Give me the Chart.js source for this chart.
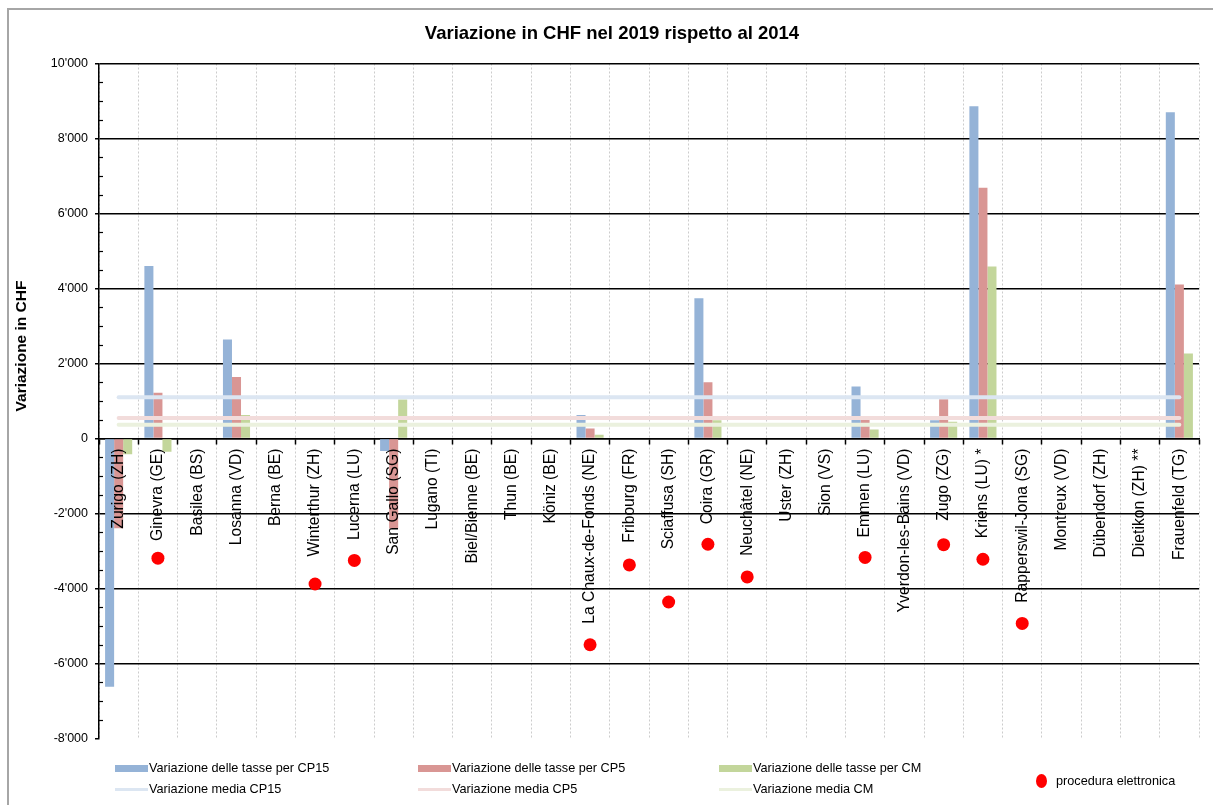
<!DOCTYPE html>
<html>
<head>
<meta charset="utf-8">
<script src="https://cdn.jsdelivr.net/npm/chart.js@4/dist/chart.umd.min.js"></script>
<style>
  body { margin: 0; background: #fff; overflow: hidden; font-family: "Liberation Sans", Arial, sans-serif; }
  #wrap { position: relative; width: 1213px; height: 805px; overflow: hidden; }
  #frame { position: absolute; left: 7px; top: 8px; width: 1240px; height: 840px; border: 2px solid #a6a6a6; pointer-events: none; }
  .item { position: absolute; height: 16px; display: flex; align-items: center; font-size: 12.7px; color: #000; white-space: nowrap; }
  .swatch { display: inline-block; width: 33px; margin-right: 1px; }
</style>
</head>
<body>
<div id="wrap">
  <canvas id="chart" width="1213" height="805"></canvas>
  <div id="frame"></div>
  <div id="legend"></div>
</div>
<script>
const titolo = 'Variazione in CHF nel 2019 rispetto al 2014';
const titoloAsseY = 'Variazione in CHF';

const citta = [
  'Zurigo (ZH)', 'Ginevra (GE)', 'Basilea (BS)', 'Losanna (VD)', 'Berna (BE)',
  'Winterthur (ZH)', 'Lucerna (LU)', 'San Gallo (SG)', 'Lugano (TI)', 'Biel/Bienne (BE)',
  'Thun (BE)', 'Köniz (BE)', 'La Chaux-de-Fonds (NE)', 'Fribourg (FR)', 'Sciaffusa (SH)',
  'Coira (GR)', 'Neuchâtel (NE)', 'Uster (ZH)', 'Sion (VS)', 'Emmen (LU)',
  'Yverdon-les-Bains (VD)', 'Zugo (ZG)', 'Kriens (LU) *', 'Rapperswil-Jona (SG)', 'Montreux (VD)',
  'Dübendorf (ZH)', 'Dietikon (ZH) **', 'Frauenfeld (TG)'
];

// variazione delle tasse per tipo di economia domestica (CHF)
const tasseCP15 = [-6620, 4600, null, 2640, null, null, null, -330, null, null, null, null, 630, null, null, 3740, null, null, null, 1390, null, 490, 8860, null, null, null, null, 8700];
const tasseCP5  = [-2390, 1220, null, 1640, null, null, null, -2400, null, null, null, null, 270, null, null, 1500, null, null, null, 600, null, 1050, 6690, null, null, null, null, 4110];
const tasseCM   = [-420, -350, null, 630, null, null, null, 1040, null, null, null, null, 100, null, null, 490, null, null, null, 240, null, 445, 4590, null, null, null, null, 2270];

// medie
const mediaCP15 = 1100;
const mediaCP5 = 545;
const mediaCM = 370;

// città con procedura elettronica
const puntiCitta = ['Ginevra (GE)', 'Winterthur (ZH)', 'Lucerna (LU)', 'La Chaux-de-Fonds (NE)', 'Fribourg (FR)', 'Sciaffusa (SH)', 'Coira (GR)', 'Neuchâtel (NE)', 'Emmen (LU)', 'Zugo (ZG)', 'Kriens (LU) *', 'Rapperswil-Jona (SG)'];
const puntiValori = [-3190, -3880, -3250, -5500, -3370, -4360, -2820, -3690, -3170, -2830, -3220, -4930];

const yMin = -8000;
const yMax = 10000;
const yStep = 2000;

const font = '"Liberation Sans", Arial, sans-serif';

function fmt(v) {
  if (v < 0) return '-' + fmt(-v);
  return String(v).replace(/\B(?=(\d{3})+(?!\d))/g, "'");
}

function lineaMedia(val) {
  return [{ x: citta[0], y: val }, { x: citta[citta.length - 1], y: val }];
}

// titolo, titolo dell'asse y e tacche secondarie
const extra = {
  id: 'extra',
  afterDraw(chart) {
    const ctx = chart.ctx;
    const y = chart.scales.y;
    const area = chart.chartArea;
    ctx.save();
    ctx.strokeStyle = '#000';
    ctx.lineWidth = 1.2;
    for (let v = yMin; v <= yMax; v += 500) {
      if (v % yStep === 0) continue;
      const py = Math.round(y.getPixelForValue(v)) + 0.5;
      ctx.beginPath();
      ctx.moveTo(area.left, py);
      ctx.lineTo(area.left + 4, py);
      ctx.stroke();
    }
    ctx.fillStyle = '#000';
    ctx.textAlign = 'center';
    ctx.textBaseline = 'middle';
    ctx.font = 'bold 18.5px ' + font;
    ctx.fillText(titolo, 612, 34);

    ctx.translate(22, 346);
    ctx.rotate(-Math.PI / 2);
    ctx.font = 'bold 15.5px ' + font;
    ctx.fillText(titoloAsseY, 0, 0);
    ctx.restore();
  }
};

const chart = new Chart(document.getElementById('chart'), {
  data: {
    labels: citta,
    datasets: [
      { type: 'bar', label: 'Variazione delle tasse per CP15', data: tasseCP15, backgroundColor: '#95b3d7', order: 2 },
      { type: 'bar', label: 'Variazione delle tasse per CP5', data: tasseCP5, backgroundColor: '#d99694', order: 2 },
      { type: 'bar', label: 'Variazione delle tasse per CM', data: tasseCM, backgroundColor: '#c3d69b', order: 2 },
      { type: 'line', label: 'Variazione media CP15', data: lineaMedia(mediaCP15), borderColor: '#dce6f2', backgroundColor: '#dce6f2', borderWidth: 4, borderCapStyle: 'round', pointRadius: 0, order: 1 },
      { type: 'line', label: 'Variazione media CP5', data: lineaMedia(mediaCP5), borderColor: '#f2dcdb', backgroundColor: '#f2dcdb', borderWidth: 4, borderCapStyle: 'round', pointRadius: 0, order: 1 },
      { type: 'line', label: 'Variazione media CM', data: lineaMedia(mediaCM), borderColor: '#ebf1de', backgroundColor: '#ebf1de', borderWidth: 4, borderCapStyle: 'round', pointRadius: 0, order: 1 },
      { type: 'line', label: 'procedura elettronica', data: puntiCitta.map((c, i) => ({ x: c, y: puntiValori[i] })), showLine: false, pointRadius: 6.5, pointBorderWidth: 0, backgroundColor: '#ff0000', borderColor: '#ff0000', order: 0 }
    ]
  },
  options: {
    responsive: false,
    animation: false,
    events: [],
    layout: { padding: { left: 0, right: 14, top: 63.5, bottom: 66.5 } },
    datasets: { bar: { categoryPercentage: 0.69, barPercentage: 1.0 } },
    plugins: {
      legend: { display: false },
      tooltip: { enabled: false },
      title: { display: false }
    },
    scales: {
      x: {
        position: { y: 0 },
        offset: true,
        grid: { offset: true, color: '#cccccc', lineWidth: 1, tickColor: '#000', tickLength: 5, tickWidth: 1.5, tickBorderDash: [] },
        border: { color: '#000', width: 1.5, dash: [2, 2] },
        ticks: { minRotation: 90, maxRotation: 90, autoSkip: false, padding: 5, color: '#000', font: { size: 15.7, family: font }, z: 1 }
      },
      y: {
        min: yMin, max: yMax,
        afterFit: s => { s.width = 99; },
        grid: { color: c => (c.tick && c.tick.value === yMin) ? 'rgba(0,0,0,0)' : '#000', lineWidth: 1.5, tickLength: 4, tickColor: '#000', tickWidth: 1.5 },
        border: { color: '#000', width: 1.5 },
        ticks: { stepSize: yStep, padding: 7, color: '#000', font: { size: 12.5, family: font }, callback: v => fmt(v) }
      }
    }
  },
  plugins: [extra]
});

// legenda su tre colonne sotto il grafico
const posLegenda = [[115, 768], [418, 768], [719, 768], [115, 789], [418, 789], [719, 789], [1036, 781]];
const legend = document.getElementById('legend');
chart.data.datasets.forEach((ds, i) => {
  const item = document.createElement('div');
  item.className = 'item';
  item.style.left = posLegenda[i][0] + 'px';
  item.style.top = (posLegenda[i][1] - 8) + 'px';
  const sw = document.createElement('span');
  sw.className = 'swatch';
  if (ds.type === 'bar') {
    sw.style.height = '7px';
    sw.style.background = ds.backgroundColor;
  } else if (ds.showLine === false) {
    sw.style.width = '11px';
    sw.style.height = '14px';
    sw.style.borderRadius = '50%';
    sw.style.background = ds.backgroundColor;
    sw.style.marginRight = '9px';
  } else {
    sw.style.height = '3px';
    sw.style.background = ds.borderColor;
  }
  const txt = document.createElement('span');
  txt.textContent = ds.label;
  item.appendChild(sw);
  item.appendChild(txt);
  legend.appendChild(item);
});
</script>
</body>
</html>
